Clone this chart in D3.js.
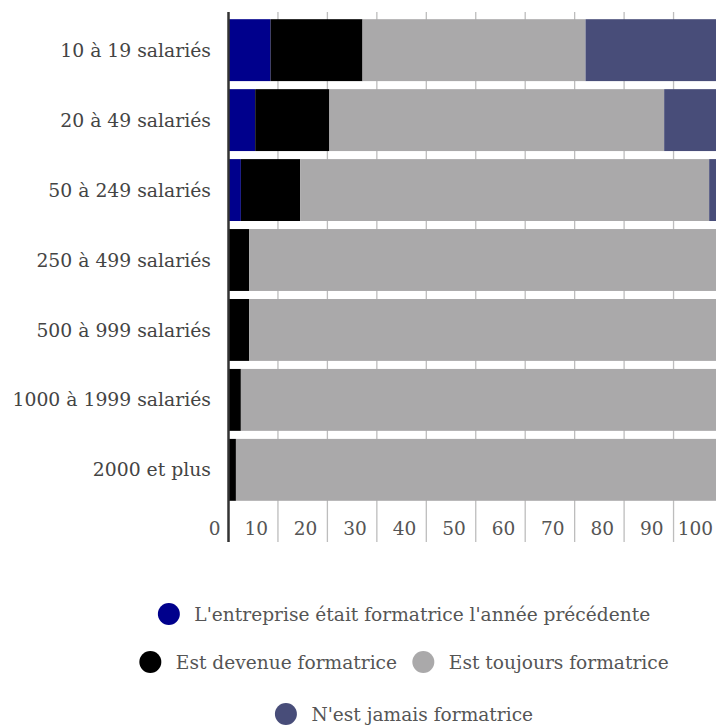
<!DOCTYPE html>
<html>
<head>
<meta charset="utf-8">
<script src="https://cdn.jsdelivr.net/npm/d3@7"></script>
<style>
  body { margin: 0; background: #fff; }
  text { font-family: "DejaVu Serif", serif; }
</style>
</head>
<body>
<div id="chart"></div>
<script>
// data
const categories = ["10 à 19 salariés", "20 à 49 salariés", "50 à 249 salariés",
  "250 à 499 salariés", "500 à 999 salariés", "1000 à 1999 salariés", "2000 et plus"];
const seriesNames = ["L'entreprise était formatrice l'année précédente",
  "Est devenue formatrice", "Est toujours formatrice", "N'est jamais formatrice"];
const precedente = [8.5, 5.4, 2.5, 0, 0, 0, 0];
const devenue = [18.6, 15.0, 12.0, 4.2, 4.2, 2.5, 1.5];
const toujours = [45.1, 67.7, 82.7, 95.8, 95.8, 97.5, 98.5];
const jamais = [27.8, 11.9, 2.8, 0, 0, 0, 0];
const tickValues = [0, 10, 20, 30, 40, 50, 60, 70, 80, 90, 100];
const colors = ["#00008c", "#000000", "#aaa9aa", "#484d79"];

const width = 716, height = 727;
const margin = { top: 12, left: 228.5, bottom: 185 };
const plotW = 494.5;

const svg = d3.select("#chart").append("svg")
  .attr("width", width).attr("height", height);

const rows = categories.map((c, i) => ({
  cat: c, v: [precedente[i], devenue[i], toujours[i], jamais[i]]
}));
const stacked = d3.stack().keys([0, 1, 2, 3]).value((d, k) => d.v[k])(rows);

const x = d3.scaleLinear().domain([0, 100]).range([margin.left, margin.left + plotW]);
const y = d3.scaleBand().domain(categories)
  .range([margin.top + 3, margin.top + 3 + 7 * 70]).paddingInner(0.115).paddingOuter(0.06);

// grid lines
svg.append("g").selectAll("line")
  .data(tickValues.slice(1))
  .join("line")
  .attr("x1", d => x(d)).attr("x2", d => x(d))
  .attr("y1", margin.top).attr("y2", 542)
  .attr("stroke", "#bdbdbd").attr("stroke-width", 1.3);

// bars
svg.append("g").selectAll("g")
  .data(stacked)
  .join("g")
  .attr("fill", d => colors[d.key])
  .selectAll("rect")
  .data(d => d)
  .join("rect")
  .attr("x", d => x(d[0]))
  .attr("y", d => y(d.data.cat))
  .attr("width", d => Math.max(0, x(d[1]) - x(d[0])))
  .attr("height", y.bandwidth());

// axis line
svg.append("line")
  .attr("x1", x(0)).attr("x2", x(0))
  .attr("y1", margin.top).attr("y2", 542)
  .attr("stroke", "#333").attr("stroke-width", 2.5);

// category labels
svg.append("g").selectAll("text")
  .data(categories)
  .join("text")
  .attr("x", 211)
  .attr("y", d => y(d) + y.bandwidth() / 2)
  .attr("dy", "0.35em")
  .attr("text-anchor", "end")
  .attr("font-size", 18.8)
  .attr("fill", "#444")
  .text(d => d);

// tick labels
svg.append("g").selectAll("text")
  .data(tickValues)
  .join("text")
  .attr("x", d => x(d) - (d === 0 ? 8 : 10))
  .attr("y", 529)
  .attr("dy", "0.35em")
  .attr("text-anchor", "end")
  .attr("font-size", 18.5)
  .attr("fill", "#555")
  .text(d => d);

// legend
const legendRows = [[0], [1, 2], [3]];
const legendY = [614, 662, 714];
const lg = svg.append("g");
legendRows.forEach((r, ri) => {
  const g = lg.append("g");
  let cx = 0;
  r.forEach(k => {
    g.append("circle").attr("cx", cx + 11).attr("cy", legendY[ri]).attr("r", 11)
      .attr("fill", colors[k]);
    const t = g.append("text").attr("x", cx + 36.5).attr("y", legendY[ri]).attr("dy", "0.35em")
      .attr("font-size", 18.6).attr("fill", "#555").text(seriesNames[k]);
    cx += 36.5 + t.node().getComputedTextLength() + 15.3;
  });
  const w = cx - 15.3;
  g.attr("transform", `translate(${404 - w / 2},0)`);
});
</script>
</body>
</html>
